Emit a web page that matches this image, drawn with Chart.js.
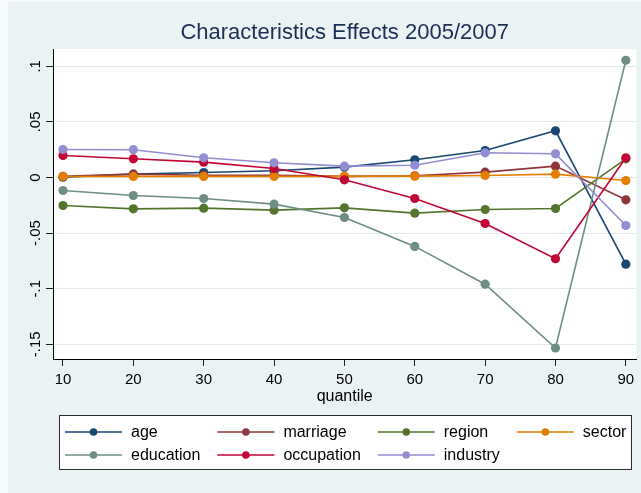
<!DOCTYPE html>
<html>
<head>
<meta charset="utf-8">
<script src="https://cdn.jsdelivr.net/npm/chart.js@4/dist/chart.umd.min.js"></script>
<style>
  html, body { margin: 0; padding: 0; background: #ffffff; }
  #wrap { width: 641px; height: 493px; position: relative; }
</style>
</head>
<body>
<div id="wrap"><canvas id="c" width="641" height="493"></canvas></div>
<script>
// Quantile grid and the characteristics effect of each covariate group
const quantiles  = [10, 20, 30, 40, 50, 60, 70, 80, 90];
const age        = [0.0003, 0.0030, 0.0045, 0.0060, 0.0093, 0.0159, 0.0243, 0.0420, -0.0780];
const marriage   = [0.0010, 0.0030, 0.0020, 0.0020, 0.0010, 0.0015, 0.0048, 0.0102, -0.0201];
const region     = [-0.0252, -0.0282, -0.0276, -0.0294, -0.0273, -0.0321, -0.0288, -0.0279, 0.0168];
const sector     = [0.0009, 0.0010, 0.0010, 0.0010, 0.0010, 0.0012, 0.0018, 0.0030, -0.0027];
const education  = [-0.0117, -0.0162, -0.0189, -0.0240, -0.0360, -0.0620, -0.0960, -0.1534, 0.1055];
const occupation = [0.0198, 0.0168, 0.0138, 0.0081, -0.0021, -0.0189, -0.0414, -0.0731, 0.0177];
const industry   = [0.0252, 0.0250, 0.0177, 0.0132, 0.0102, 0.0110, 0.0222, 0.0213, -0.0432];

const seriesNames  = ['age', 'marriage', 'region', 'sector', 'education', 'occupation', 'industry'];
const seriesValues = [age, marriage, region, sector, education, occupation, industry];

// Axis ticks
const xTickValues = [10, 20, 30, 40, 50, 60, 70, 80, 90];
const yTickValues = [-0.15, -0.1, -0.05, 0, 0.05, 0.1];
const yTickLabels = ['-.15', '-.1', '-.05', '0', '.05', '.1'];

const titleText  = 'Characteristics Effects 2005/2007';
const xAxisTitle = 'quantile';

// Styling
const seriesColors = ['#1a476f', '#90353b', '#55752f', '#e37e00', '#6e8e84', '#c10534', '#938dd2'];
const FONT = '"Liberation Sans", Arial, Helvetica, sans-serif';
const BG = '#eaf2f3';

const datasets = seriesNames.map((name, i) => ({
  label: name,
  data: quantiles.map((q, j) => ({ x: q, y: seriesValues[i][j] })),
  borderColor: seriesColors[i],
  backgroundColor: seriesColors[i],
  pointBackgroundColor: seriesColors[i],
  pointBorderWidth: 0,
  pointRadius: 4.6,
  borderWidth: 1.6,
  tension: 0,
  clip: false,
  // later series are painted over earlier ones
  order: seriesNames.length - i
}));

// Backgrounds: outer region and white plot region
const backgroundPlugin = {
  id: 'backgrounds',
  beforeDraw(chart) {
    const { ctx, chartArea: a, width, height } = chart;
    ctx.save();
    ctx.fillStyle = '#f7fafa';
    ctx.fillRect(0, 0, width, height);
    ctx.fillStyle = BG;
    ctx.fillRect(8, 2, width - 8, height - 2);
    ctx.fillStyle = '#ffffff';
    ctx.fillRect(a.left, a.top, a.right - a.left, a.bottom - a.top);
    ctx.restore();
  }
};

// Title, rotated y tick labels, x axis title and the boxed legend
const annotationsPlugin = {
  id: 'annotations',
  afterDraw(chart) {
    const { ctx, chartArea: a } = chart;
    const ys = chart.scales.y;
    const cx = (a.left + a.right) / 2;
    ctx.save();

    // title
    ctx.fillStyle = '#1c2d56';
    ctx.font = '22px ' + FONT;
    ctx.textAlign = 'center';
    ctx.textBaseline = 'middle';
    ctx.fillText(titleText, cx, 33);

    // y tick labels, rotated to read bottom-to-top
    ctx.fillStyle = '#000000';
    ctx.font = '15px ' + FONT;
    ctx.textAlign = 'center';
    ctx.textBaseline = 'alphabetic';
    yTickValues.forEach((v, i) => {
      const py = ys.getPixelForValue(v);
      ctx.save();
      ctx.translate(a.left - 13, py);
      ctx.rotate(-Math.PI / 2);
      ctx.fillText(yTickLabels[i], 0, 0);
      ctx.restore();
    });

    // x axis title
    ctx.font = '16px ' + FONT;
    ctx.textBaseline = 'middle';
    ctx.fillText(xAxisTitle, cx, a.bottom + 38);

    // legend box
    const box = { left: 59, top: 415, right: 632, bottom: 470 };
    ctx.fillStyle = '#ffffff';
    ctx.fillRect(box.left, box.top, box.right - box.left, box.bottom - box.top);
    ctx.strokeStyle = '#2b2b2b';
    ctx.lineWidth = 1;
    ctx.strokeRect(box.left + 0.5, box.top + 0.5, box.right - box.left - 1, box.bottom - box.top - 1);

    const ds = chart.data.datasets;
    const nCols = 4;
    const rowY = [432, 455];
    const lineLen = 57;
    ctx.font = '16px ' + FONT;
    ctx.textAlign = 'left';
    ctx.textBaseline = 'middle';
    let colX = box.left + 6;
    for (let c = 0; c < nCols; c++) {
      let maxW = 0;
      for (let r = 0; r < rowY.length; r++) {
        const idx = r * nCols + c;
        if (idx >= ds.length) continue;
        const d = ds[idx];
        const y = rowY[r];
        ctx.strokeStyle = d.borderColor;
        ctx.lineWidth = 1.6;
        ctx.beginPath();
        ctx.moveTo(colX, y);
        ctx.lineTo(colX + lineLen, y);
        ctx.stroke();
        ctx.fillStyle = d.borderColor;
        ctx.beginPath();
        ctx.arc(colX + lineLen / 2, y, 3.8, 0, Math.PI * 2);
        ctx.fill();
        ctx.fillStyle = '#000000';
        ctx.fillText(d.label, colX + 66, y + 1);
        maxW = Math.max(maxW, ctx.measureText(d.label).width);
      }
      colX = colX + 66 + maxW + 17;
    }
    ctx.restore();
  }
};

new Chart(document.getElementById('c'), {
  type: 'line',
  data: { datasets },
  plugins: [backgroundPlugin, annotationsPlugin],
  options: {
    responsive: false,
    animation: false,
    events: [],
    devicePixelRatio: 1,
    layout: { padding: { top: 49, right: 4, left: 0, bottom: 0 } },
    plugins: {
      legend: { display: false },
      title: { display: false },
      tooltip: { enabled: false }
    },
    scales: {
      x: {
        type: 'linear',
        position: 'bottom',
        min: 8.58,
        max: 91.5,
        afterBuildTicks: s => { s.ticks = xTickValues.map(v => ({ value: v })); },
        afterFit: s => { s.height = 134; },
        ticks: {
          autoSkip: false,
          maxRotation: 0,
          minRotation: 0,
          padding: 5,
          color: '#000000',
          font: { family: FONT, size: 15 },
          callback: v => String(v)
        },
        grid: { drawOnChartArea: false, drawTicks: true, tickLength: 7, tickColor: '#222222', tickWidth: 1 },
        border: { display: true, color: '#000000', width: 1 }
      },
      y: {
        type: 'linear',
        position: 'left',
        min: -0.1633,
        max: 0.1156,
        afterBuildTicks: s => { s.ticks = yTickValues.map(v => ({ value: v })); },
        afterFit: s => { s.width = 53; },
        ticks: { display: false },
        grid: { drawOnChartArea: true, color: '#e1e9ec', lineWidth: 1, drawTicks: true, tickLength: 7, tickColor: '#222222', tickWidth: 1 },
        border: { display: true, color: '#000000', width: 1 }
      }
    }
  }
});
</script>
</body>
</html>
